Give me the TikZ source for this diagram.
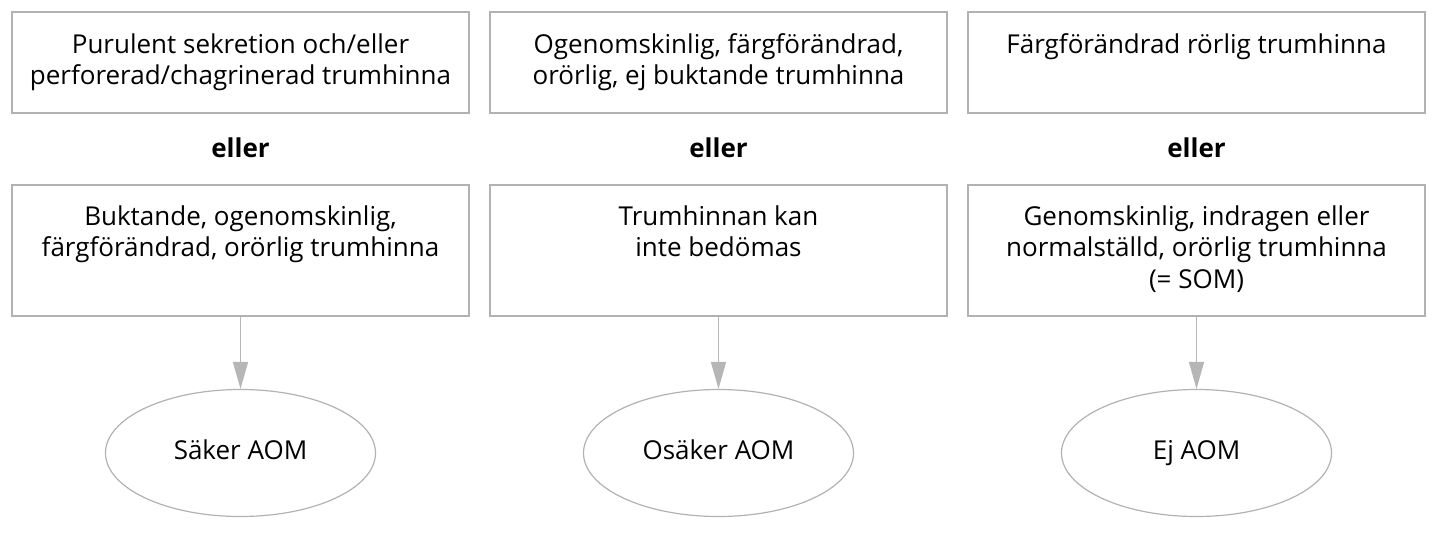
\documentclass[tikz,border=0pt]{standalone}
\usepackage{fontspec}
\setmainfont{Open Sans}
\usetikzlibrary{arrows.meta,shapes.geometric}
\definecolor{framegray}{RGB}{178,178,178}
\definecolor{arrowgray}{RGB}{182,182,182}

\begin{document}
\begin{tikzpicture}[x=1pt,y=-1pt,
    box/.style={draw=framegray,line width=1.6pt,minimum width=457pt,inner sep=0pt},
    boxtxt/.style={anchor=north,align=center,inner sep=0pt,
        font=\fontsize{26}{31.5}\selectfont},
    orword/.style={font=\fontsize{26}{31}\selectfont\bfseries},
    outcome/.style={ellipse,draw=framegray,line width=1.2pt,
        minimum width=270pt,minimum height=127pt,inner sep=0pt,
        text height=19pt,text depth=6pt,
        font=\fontsize{26}{31}\selectfont},
    arrow/.style={draw=arrowgray,line width=1.6pt,
        -{Triangle[length=27pt,width=15pt]}}]
    \useasboundingbox (0,0) rectangle (1447,536);

    % top boxes
    \node[box,minimum height=101pt] (t1) at (240.5,62.5) {};
    \node[box,minimum height=101pt] (t2) at (718.5,62.5) {};
    \node[box,minimum height=101pt] (t3) at (1196.5,62.5) {};
    \node[boxtxt] (t1txt) at ([yshift=-22pt]t1.north)
        {Purulent sekretion och/eller\\perforerad/chagrinerad trumhinna};
    \node[boxtxt] (t2txt) at ([yshift=-22pt]t2.north)
        {Ogenomskinlig, färgförändrad,\\orörlig, ej buktande trumhinna};
    \node[boxtxt] (t3txt) at ([yshift=-22pt]t3.north)
        {Färgförändrad rörlig trumhinna};

    % eller
    \node[orword] (o1) at (240.5,148) {eller};
    \node[orword] (o2) at (718.5,148) {eller};
    \node[orword] (o3) at (1196.5,148) {eller};

    % bottom boxes
    \node[box,minimum height=131pt] (b1) at (240.5,250.5) {};
    \node[box,minimum height=131pt] (b2) at (718.5,250.5) {};
    \node[box,minimum height=131pt] (b3) at (1196.5,250.5) {};
    \node[boxtxt] (b1txt) at ([yshift=-21pt]b1.north)
        {Buktande, ogenomskinlig,\\färgförändrad, orörlig trumhinna};
    \node[boxtxt] (b2txt) at ([yshift=-21pt]b2.north)
        {Trumhinnan kan\\inte bedömas};
    \node[boxtxt] (b3txt) at ([yshift=-21pt]b3.north)
        {Genomskinlig, indragen eller\\normalställd, orörlig trumhinna\\(= SOM)};

    % outcomes
    \node[outcome] (e1) at (240.5,453) {Säker AOM};
    \node[outcome] (e2) at (718.5,453) {Osäker AOM};
    \node[outcome] (e3) at (1196.5,453) {Ej AOM};

    \draw[arrow] (b1.south) -- (e1.north);
    \draw[arrow] (b2.south) -- (e2.north);
    \draw[arrow] (b3.south) -- (e3.north);
\end{tikzpicture}
\end{document}
